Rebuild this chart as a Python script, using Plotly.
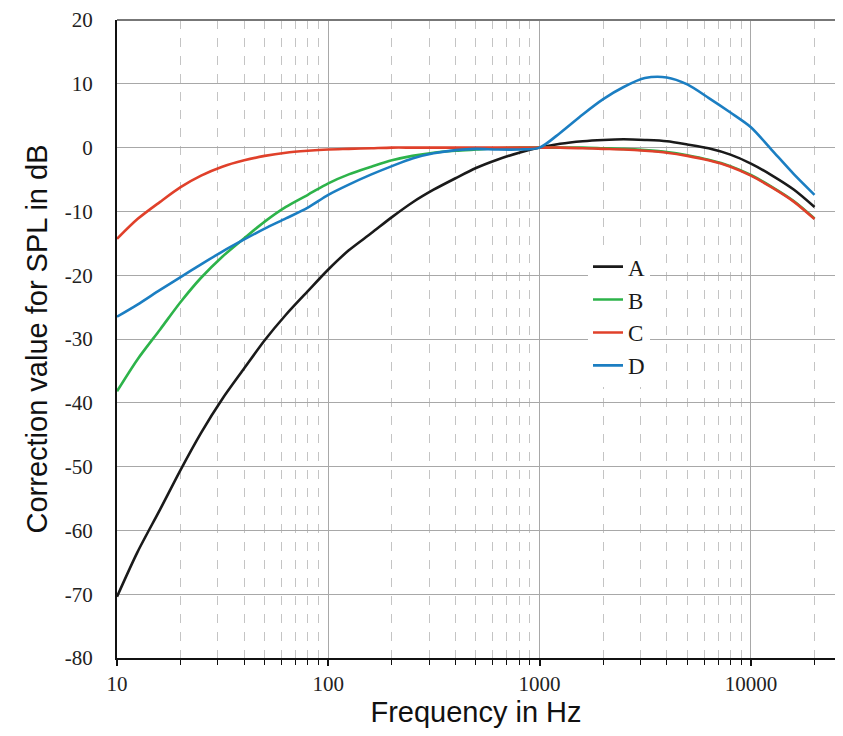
import plotly.graph_objects as go

freq = [10, 12.5, 16, 20, 25, 31.5, 40, 50, 63, 80, 100, 125, 160, 200, 250, 315, 400, 500,
        630, 800, 1000, 1250, 1600, 2000, 2500, 3150, 4000, 5000, 6300, 8000, 10000, 12500, 16000, 20000]

a_vals = [-70.4, -63.4, -56.7, -50.5, -44.7, -39.4, -34.6, -30.2, -26.2, -22.5, -19.1, -16.1, -13.4, -10.9,
          -8.6, -6.6, -4.8, -3.2, -1.9, -0.8, 0.0, 0.6, 1.0, 1.2, 1.3, 1.2, 1.0, 0.5, -0.1, -1.1, -2.5,
          -4.3, -6.6, -9.3]
b_vals = [-38.2, -33.2, -28.5, -24.2, -20.4, -17.1, -14.2, -11.6, -9.3, -7.4, -5.6, -4.2, -3.0, -2.0,
          -1.3, -0.8, -0.5, -0.3, -0.1, 0.0, 0.0, 0.0, 0.0, -0.1, -0.2, -0.4, -0.7, -1.2, -1.9, -2.9,
          -4.3, -6.1, -8.4, -11.1]
c_vals = [-14.3, -11.2, -8.5, -6.2, -4.4, -3.0, -2.0, -1.3, -0.8, -0.5, -0.3, -0.2, -0.1, 0.0,
          0.0, 0.0, 0.0, 0.0, 0.0, 0.0, 0.0, 0.0, -0.1, -0.2, -0.3, -0.5, -0.8, -1.3, -2.0, -3.0,
          -4.4, -6.2, -8.5, -11.2]
d_vals = [-26.5, -24.6, -22.3, -20.3, -18.3, -16.3, -14.4, -12.7, -11.1, -9.4, -7.4, -5.8, -4.2, -2.9,
          -1.7, -0.9, -0.4, -0.2, -0.3, -0.3, 0.0, 2.3, 5.2, 7.6, 9.5, 10.9, 11.0, 9.9, 7.8, 5.5,
          3.2, -0.3, -4.2, -7.4]

series_names = ["A", "B", "C", "D"]
series_colors = ["#1a1a1a", "#2db34a", "#e0402a", "#1b7ec2"]

x_major = [10, 100, 1000, 10000]
x_major_text = ["10", "100", "1000", "10000"]
x_minor = [m * d for d in [10, 100, 1000, 10000] for m in range(2, 10)]
y_ticks = list(range(-80, 21, 10))
y_tick_text = [str(v) for v in y_ticks]

fig = go.Figure()
for name, vals, col in zip(series_names, [a_vals, b_vals, c_vals, d_vals], series_colors):
    fig.add_trace(go.Scatter(x=freq, y=vals, name=name, mode="lines",
                             line=dict(color=col, width=2.6, shape="spline", smoothing=0.8)))

serif = "Liberation Serif, Times New Roman, serif"
sans = "Liberation Sans, Arial, sans-serif"

# page body has an 8px default margin, so the figure is offset by (8, 8) in the window
W, H = 827, 720
fig.update_layout(
    width=W, height=H,
    margin=dict(l=109, r=0, t=12, b=70, autoexpand=False),
    paper_bgcolor="white", plot_bgcolor="white",
    showlegend=True,
    legend=dict(x=(593 - 117 - 5) / (W - 109), y=0.647, xanchor="left", yanchor="top",
                bgcolor="white", borderwidth=0,
                font=dict(family=serif, size=23, color="#1a1a1a"),
                itemwidth=30, tracegroupgap=0),
    xaxis=dict(
        type="log", range=[1, 1 + (W - 109) / 211.3], automargin=False,
        tickvals=x_major, ticktext=x_major_text,
        showgrid=True, gridcolor="#a8a8a8", gridwidth=1,
        showline=True, linecolor="#111", linewidth=2,
        ticks="outside", ticklen=6, tickcolor="#111", tickwidth=1.5,
        tickfont=dict(family=serif, size=21, color="#222"),
        minor=dict(tickvals=x_minor, showgrid=True, griddash="dash",
                   gridcolor="#c4c4c4", gridwidth=1,
                   ticks="outside", ticklen=5, tickcolor="#111", tickwidth=1.2),
        title=dict(text="Frequency in Hz", font=dict(family=sans, size=29, color="#111"), standoff=11),
        zeroline=False,
    ),
    yaxis=dict(
        range=[-80, 20], tickvals=y_ticks, ticktext=y_tick_text, automargin=False,
        showgrid=True, gridcolor="#a8a8a8", gridwidth=1,
        showline=True, linecolor="#111", linewidth=2,
        ticks="", ticklabelstandoff=18,
        tickfont=dict(family=serif, size=21, color="#222"),
        title=dict(text="Correction value for SPL in dB", font=dict(family=sans, size=29, color="#111"), standoff=9),
        zeroline=False,
    ),
    shapes=[dict(type="line", xref="paper", yref="paper", x0=0, x1=1, y0=1, y1=1,
                 line=dict(color="#777", width=2))],
)

fig.write_html("out.html")
